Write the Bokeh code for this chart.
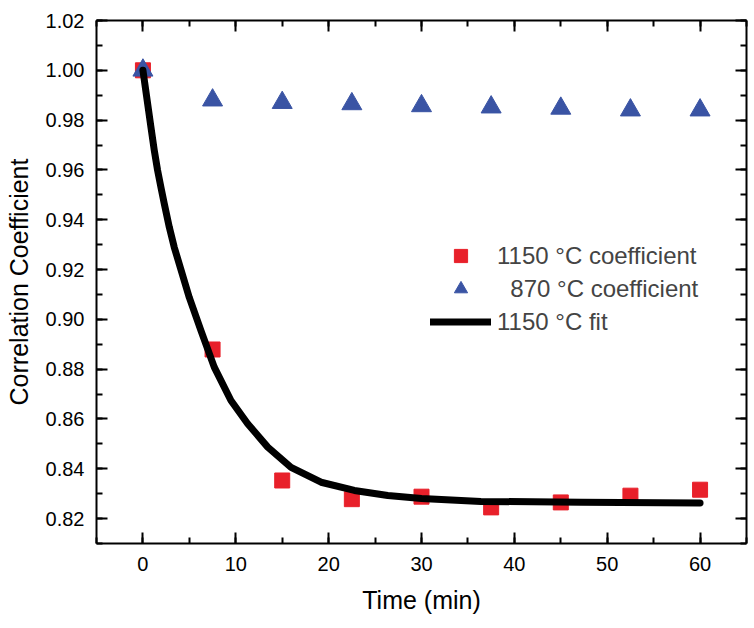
from bokeh.plotting import figure
from bokeh.models import (LinearAxis, Range1d, Legend, LegendItem,
                          SingleIntervalTicker, NumeralTickFormatter)
from bokeh.embed import file_html
from bokeh.resources import INLINE

# ---- data ----
time_min = [0, 7.5, 15, 22.5, 30, 37.5, 45, 52.5, 60]
coef_1150 = [1.000, 0.8879, 0.8353, 0.8278, 0.8288, 0.8245, 0.8265, 0.8292, 0.8316]
coef_870 = [1.000, 0.988, 0.987, 0.9865, 0.9857, 0.9852, 0.9847, 0.9840, 0.9840]

fit_time = [0, 0.86, 1.22, 1.58, 1.94, 2.30, 2.84, 3.37, 4.09, 4.99, 6.25, 7.68,
            9.48, 11.28, 13.44, 15.95, 19.18, 22.77, 26.37, 30.0, 36.4, 47.2, 60.0]
fit_1150 = [1.000, 0.9772, 0.9679, 0.9598, 0.9530, 0.9464, 0.9370, 0.9290, 0.9200,
            0.9088, 0.8955, 0.8808, 0.8674, 0.8581, 0.8487, 0.8406, 0.8346, 0.8313,
            0.8293, 0.8281, 0.8269, 0.8266, 0.8263]

x_range = (-5, 65)
y_range = (0.81, 1.02)
labels = ["1150 \u00b0C coefficient", "\u00a0\u00a0870 \u00b0C coefficient", "1150 \u00b0C fit"]

FONT = "Liberation Sans"
RED = "#E8202A"
BLUE = "#3A54A4"

p = figure(width=750, height=624, output_backend="svg", toolbar_location=None,
           x_range=Range1d(*x_range), y_range=Range1d(*y_range),
           min_border_left=96, min_border_top=20, min_border_right=4, min_border_bottom=81,
           x_axis_label="Time (min)", y_axis_label="Correlation Coefficient")
p.outline_line_color = None
p.grid.visible = False
p.background_fill_color = "white"
p.border_fill_color = "white"


def style(ax, interval, show_labels):
    ax.ticker = SingleIntervalTicker(interval=interval, num_minor_ticks=2)
    ax.axis_line_width = 2
    ax.axis_line_color = "black"
    ax.major_tick_line_width = 2
    ax.minor_tick_line_width = 2
    ax.major_tick_in = 11
    ax.major_tick_out = 0
    ax.minor_tick_in = 6
    ax.minor_tick_out = 0
    ax.major_label_text_font = FONT
    ax.axis_label_text_font = FONT
    ax.axis_label_text_font_style = "normal"
    ax.axis_label_text_color = "black"
    if show_labels:
        ax.major_label_text_color = "black"
        ax.major_label_text_font_size = "20px"
        ax.axis_label_text_font_size = "25px"
    else:
        ax.major_label_text_color = None
        ax.major_label_text_font_size = "0px"
        ax.major_label_standoff = 0


xa = p.xaxis[0]
ya = p.yaxis[0]
style(xa, 10, True)
style(ya, 0.02, True)
ya.formatter = NumeralTickFormatter(format="0.00")
xa.major_label_standoff = 13
xa.axis_label_standoff = 12
ya.major_label_standoff = 12
ya.axis_label_standoff = 10

top = LinearAxis()
style(top, 10, False)
p.add_layout(top, "above")
right = LinearAxis()
style(right, 0.02, False)
p.add_layout(right, "right")

r_sq = p.scatter(time_min, coef_1150, marker="square", size=15,
                 fill_color=RED, line_color=RED)
r_tri = p.scatter(time_min, coef_870, marker="triangle", size=20,
                  fill_color=BLUE, line_color=BLUE)
r_fit = p.line(fit_time, fit_1150, line_width=7, line_color="black",
               line_cap="round", line_join="round")

legend = Legend(items=[LegendItem(label=labels[0], renderers=[r_sq]),
                       LegendItem(label=labels[1], renderers=[r_tri]),
                       LegendItem(label=labels[2], renderers=[r_fit])],
                location=(334, 205), glyph_width=61, glyph_height=33, spacing=0,
                label_standoff=6, padding=0, margin=0, border_line_color=None,
                background_fill_alpha=0, label_text_font=FONT,
                label_text_font_size="24px", label_height=20)
p.add_layout(legend)

open("out.html", "w").write(file_html(p, INLINE))
